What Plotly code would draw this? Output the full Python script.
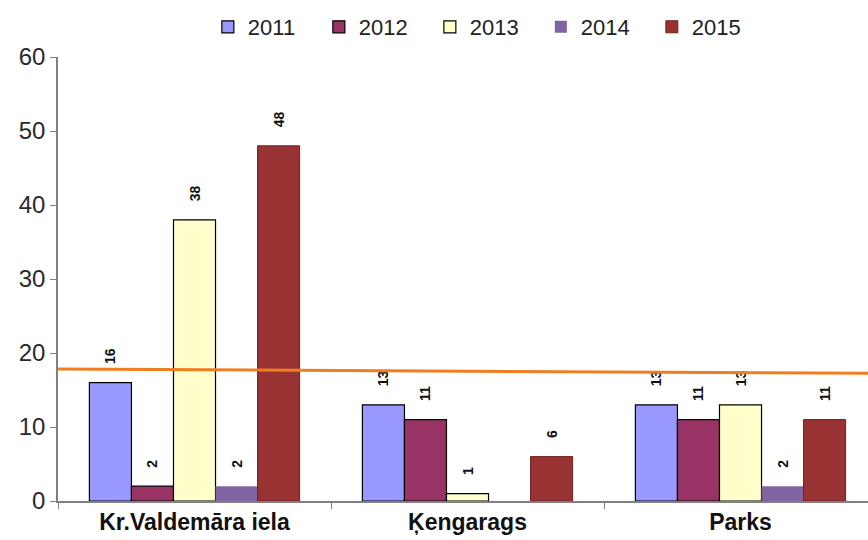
import plotly.graph_objects as go

# Categories and yearly counts
categories = ["Kr.Valdemāra iela", "Ķengarags", "Parks"]
years = ["2011", "2012", "2013", "2014", "2015"]
values_2011 = [16, 13, 13]
values_2012 = [2, 11, 11]
values_2013 = [38, 1, 13]
values_2014 = [2, None, 2]
values_2015 = [48, 6, 11]
series = [values_2011, values_2012, values_2013, values_2014, values_2015]

# Reference (trend) line: value at the left and right edge of the plot
reference_line = [17.85, 17.25]

y_ticks = [0, 10, 20, 30, 40, 50, 60]

fills = ["#9999FF", "#993366", "#FFFFCC", "#8064A2", "#993333"]
outlines = ["#000000", "#000000", "#000000", "#8064A2", "#6E2020"]
outline_w = [1.2, 1.2, 1.2, 0, 1]

FONT = "Liberation Sans, Arial, sans-serif"
GAP = "\u00a0" * 4

fig = go.Figure()
for name, vals, fc, lc, lw in zip(years, series, fills, outlines, outline_w):
    fig.add_trace(go.Bar(
        name=name,
        x=categories,
        y=vals,
        marker=dict(color=fc, line=dict(color=lc, width=lw)),
        text=[GAP + str(v) if v is not None else "" for v in vals],
        textposition="outside",
        textangle=-90,
        constraintext="none",
        cliponaxis=False,
        textfont=dict(family=FONT, size=14, color="#111111", weight="bold"),
    ))

fig.add_trace(go.Scatter(
    x=[0, 1],
    y=reference_line,
    xaxis="x2",
    mode="lines",
    line=dict(color="#F07D20", width=3),
    showlegend=False,
    hoverinfo="skip",
))

fig.update_layout(
    width=868,
    height=540,
    margin=dict(l=58, r=0, t=57, b=39),
    paper_bgcolor="white",
    plot_bgcolor="white",
    barmode="group",
    bargap=0.23,
    bargroupgap=0,
    font=dict(family=FONT, color="#333333"),
    showlegend=True,
    legend=dict(
        orientation="h",
        x=0.185, xanchor="left",
        y=1.0676, yanchor="middle",
        font=dict(family=FONT, size=22, color="#222222"),
        entrywidth=66,
        itemwidth=30,
        traceorder="normal",
        bgcolor="rgba(0,0,0,0)",
    ),
    xaxis=dict(
        type="category",
        range=[-0.5, 2.467],
        showline=True,
        linecolor="#808080",
        linewidth=1.5,
        ticks="outside",
        tickson="boundaries",
        ticklen=6,
        tickcolor="#808080",
        showgrid=False,
        tickfont=dict(family=FONT, size=23, color="#111111", weight="bold"),
    ),
    xaxis2=dict(
        overlaying="x",
        range=[0, 1],
        visible=False,
    ),
    yaxis=dict(
        range=[0, 60],
        tickvals=y_ticks,
        showline=True,
        linecolor="#808080",
        linewidth=1.5,
        ticks="outside",
        ticklen=6,
        tickcolor="#808080",
        showgrid=False,
        zeroline=False,
        tickfont=dict(family=FONT, size=24, color="#2a2a2a"),
    ),
)

fig.write_html("out.html")
